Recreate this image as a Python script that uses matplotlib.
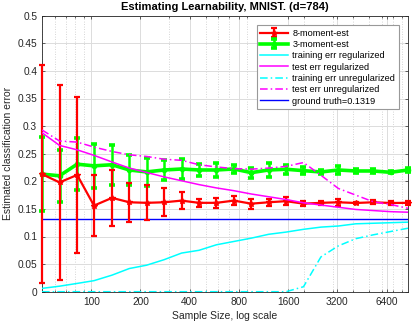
import matplotlib
matplotlib.use("Agg")
import matplotlib.pyplot as plt
from matplotlib.ticker import FixedLocator, NullFormatter, LogLocator

plt.rcParams['font.family'] = ['Liberation Sans', 'DejaVu Sans']

sample_sizes = [50, 64, 82, 104, 134, 171, 218, 279, 357, 456, 583, 745,
                952, 1216, 1554, 1986, 2538, 3244, 4145, 5297, 6769, 8650]

est8 = [0.213, 0.198, 0.2115, 0.156, 0.170, 0.162, 0.161, 0.162, 0.165, 0.161,
        0.161, 0.165, 0.1595, 0.162, 0.164, 0.1595, 0.161, 0.162, 0.1607, 0.162,
        0.1607, 0.161]
est8_err = [0.197, 0.176, 0.142, 0.0555, 0.0505, 0.035, 0.0315, 0.025, 0.016, 0.007,
            0.0085, 0.0085, 0.009, 0.0065, 0.007, 0.004, 0.004, 0.0068, 0.002, 0.004,
            0.003, 0.004]

est3 = [0.213, 0.210, 0.231, 0.228, 0.230, 0.2205, 0.217, 0.2205, 0.2223, 0.2205,
        0.2205, 0.2223, 0.2157, 0.2205, 0.2218, 0.2193, 0.2169, 0.2205, 0.2187, 0.2187,
        0.2163, 0.2205]
est3_err = [0.0665, 0.047, 0.047, 0.0395, 0.0365, 0.0265, 0.025, 0.018, 0.019, 0.0115,
            0.013, 0.0075, 0.009, 0.0125, 0.0082, 0.006, 0.004, 0.0066, 0.003, 0.003,
            0.002, 0.003]

train_reg = [0.006, 0.010, 0.015, 0.020, 0.030, 0.042, 0.048, 0.058, 0.070, 0.075,
             0.085, 0.091, 0.097, 0.104, 0.108, 0.113, 0.117, 0.119, 0.123, 0.124,
             0.125, 0.126]
test_reg = [0.288, 0.265, 0.257, 0.247, 0.235, 0.224, 0.216, 0.208, 0.201, 0.194,
            0.188, 0.183, 0.177, 0.172, 0.167, 0.161, 0.157, 0.153, 0.149, 0.147,
            0.145, 0.144]
train_unreg = [0.0, 0.0, 0.0, 0.0, 0.0, 0.0, 0.0, 0.0, 0.0, 0.0,
               0.0, 0.0, 0.0, 0.0, 0.0, 0.009, 0.063, 0.083, 0.096, 0.103,
               0.109, 0.115]
test_unreg = [0.293, 0.273, 0.271, 0.262, 0.254, 0.248, 0.245, 0.240, 0.238, 0.230,
              0.226, 0.223, 0.222, 0.224, 0.227, 0.234, 0.211, 0.187, 0.175, 0.163,
              0.158, 0.151]
ground_truth = 0.1319

xticks = [100, 200, 400, 800, 1600, 3200, 6400]
yticks = [0, 0.05, 0.1, 0.15, 0.2, 0.25, 0.3, 0.35, 0.4, 0.45, 0.5]

fig = plt.figure(figsize=(4.15, 3.27), dpi=100)
ax = fig.add_axes([42/415, 1 - 291.7/327, 366/415, 276/327])

h8 = ax.errorbar(sample_sizes, est8, yerr=est8_err, color=(1, 0, 0), lw=1.6,
                 marker='*', ms=4, capsize=2.5, capthick=1.6, elinewidth=1.6,
                 label='8-moment-est', zorder=4)
h3 = ax.errorbar(sample_sizes, est3, yerr=est3_err, color=(0, 1, 0), lw=2.6,
                 marker='o', ms=3, capsize=2.5, capthick=2.6, elinewidth=1.8,
                 label='3-moment-est', zorder=3)
for h in (h8, h3):
    for art in h.lines[1] + h.lines[2]:
        art.set_clip_on(False)
    h.lines[0].set_clip_on(False)

l1, = ax.plot(sample_sizes, train_reg, color=(0, 1, 1), lw=1.1,
              label='training err regularized', zorder=5)
l2, = ax.plot(sample_sizes, test_reg, color=(1, 0, 1), lw=1.1,
              label='test err regularized', zorder=5)
l3, = ax.plot(sample_sizes, train_unreg, color=(0, 1, 1), lw=1.1, ls=(0, (5, 2, 1, 2)),
              label='training err unregularized', zorder=5)
l4, = ax.plot(sample_sizes, test_unreg, color=(1, 0, 1), lw=1.1, ls=(0, (5, 2, 1, 2)),
              label='test err unregularized', zorder=5)
l5, = ax.plot([sample_sizes[0], sample_sizes[-1]], [ground_truth, ground_truth],
              color=(0, 0, 1), lw=1.0, label='ground truth=%.4f' % ground_truth, zorder=2)

ax.set_xscale('log')
ax.set_xlim(sample_sizes[0], sample_sizes[-1])
ax.set_ylim(0, 0.5)
ax.xaxis.set_major_locator(FixedLocator(xticks))
ax.set_xticklabels([str(t) for t in xticks])
ax.xaxis.set_minor_locator(LogLocator(base=10, subs=range(2, 10)))
ax.xaxis.set_minor_formatter(NullFormatter())
ax.set_yticks(yticks)
ax.set_yticklabels(['0', '0.05', '0.1', '0.15', '0.2', '0.25', '0.3', '0.35', '0.4', '0.45', '0.5'])

ax.grid(True, which='major', color='#dcdcdc', lw=0.7, ls='-')
ax.grid(True, which='minor', axis='x', color='#c8c8c8', lw=0.6, ls=(0, (1, 2)))
ax.set_axisbelow(True)

for s in ax.spines.values():
    s.set_color('#262626')
    s.set_linewidth(0.6)
ax.tick_params(which='both', direction='in', colors='#262626', labelsize=7.3,
               top=True, right=True, length=2.5, width=0.5)
ax.tick_params(which='minor', length=1.5)

ax.set_title('Estimating Learnability, MNIST. (d=784)', fontsize=8, fontweight='bold', pad=4)
ax.set_xlabel('Sample Size, log scale', fontsize=7.5, color='#262626', labelpad=3)
ax.set_ylabel('Estimated classification error', fontsize=7.5, color='#262626', labelpad=3)

leg = ax.legend([h8, h3, l1, l2, l3, l4, l5],
                ['8-moment-est', '3-moment-est', 'training err regularized',
                 'test err regularized', 'training err unregularized',
                 'test err unregularized', 'ground truth=%.4f' % ground_truth],
                loc='upper right', bbox_to_anchor=(0.975, 0.966), fontsize=6.6,
                frameon=True, fancybox=False, edgecolor='#999999', framealpha=1,
                handlelength=3.0, handletextpad=0.5, borderpad=0.4, labelspacing=0.25,
                borderaxespad=0)
leg.get_frame().set_linewidth(0.8)
leg.set_zorder(10)

fig.savefig('out.png', dpi=100)
